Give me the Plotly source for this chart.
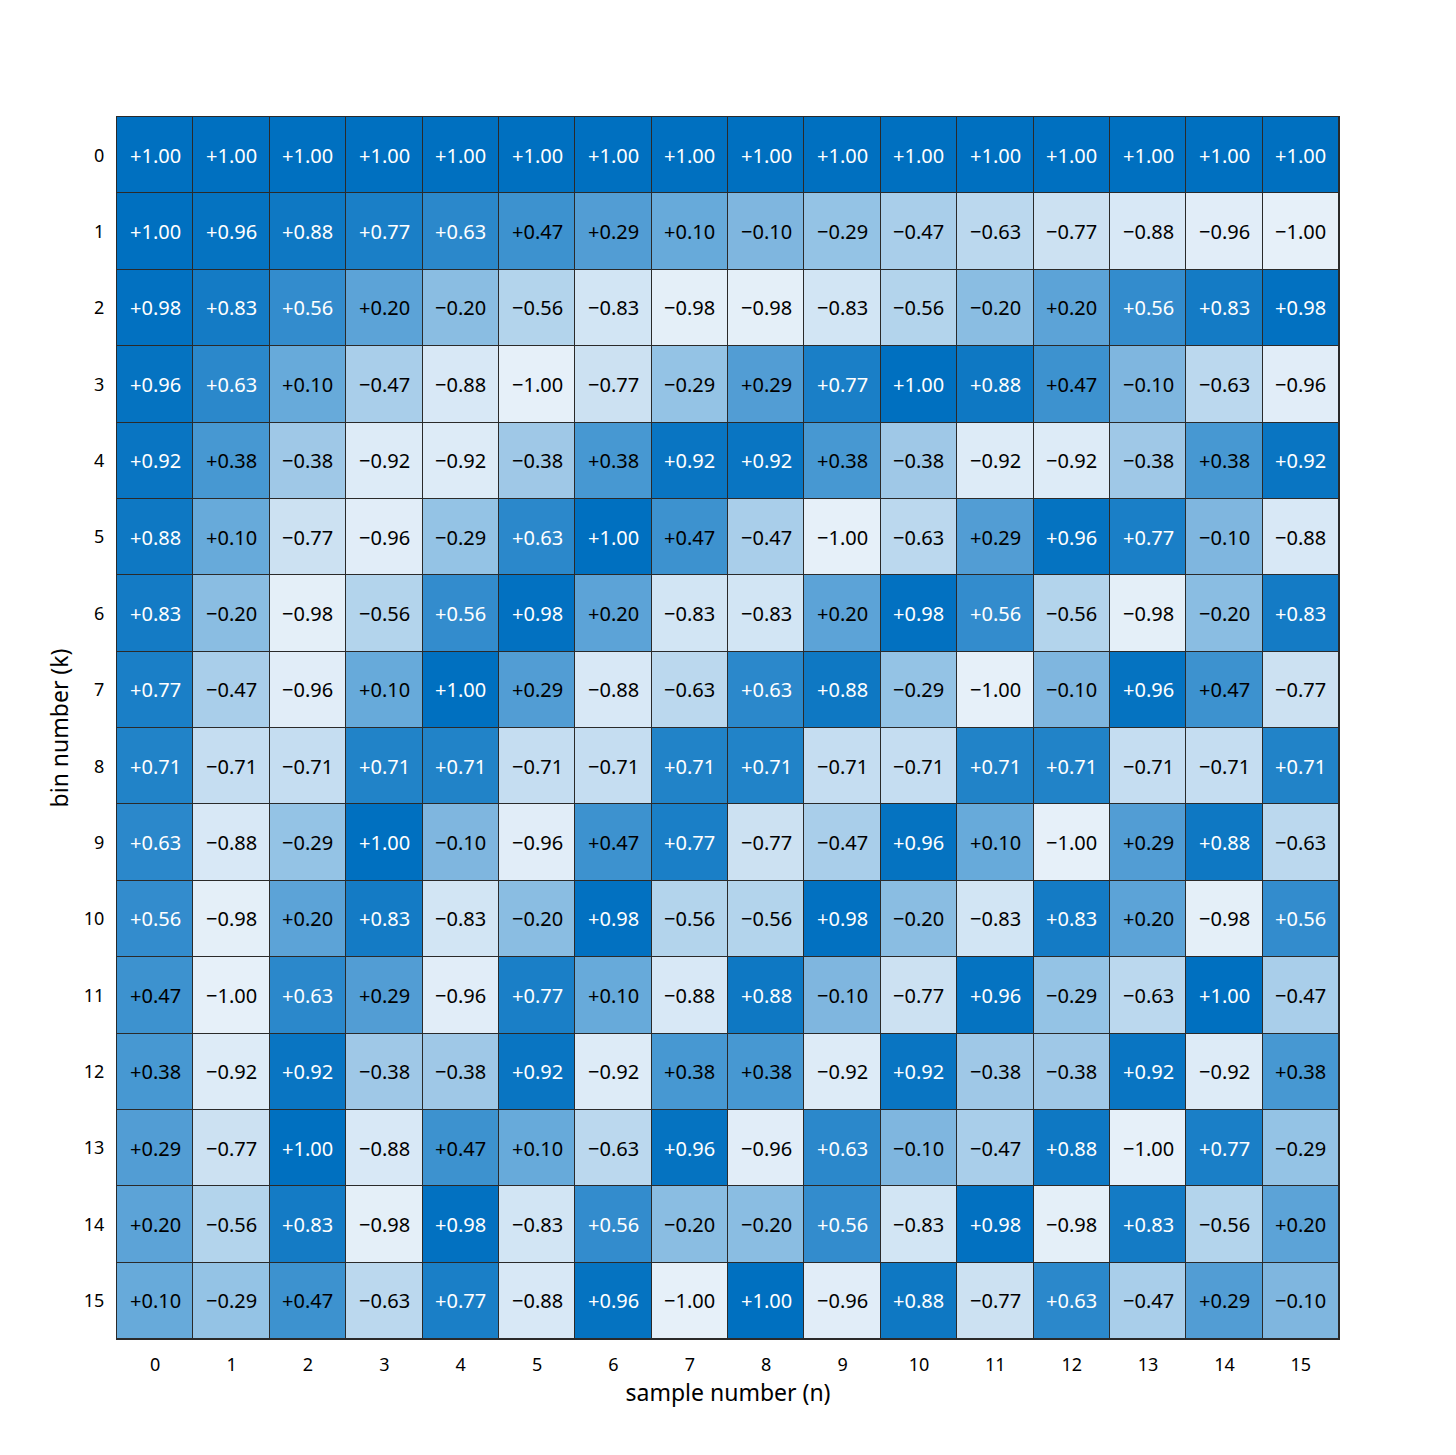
import plotly.graph_objects as go

n_labels = list(range(16))
k_labels = list(range(16))

# one list per bin k
k0 = [1.00] * 16
k1 = [1.00, 0.96, 0.88, 0.77, 0.63, 0.47, 0.29, 0.10, -0.10, -0.29, -0.47, -0.63, -0.77, -0.88, -0.96, -1.00]
k2 = [0.98, 0.83, 0.56, 0.20, -0.20, -0.56, -0.83, -0.98, -0.98, -0.83, -0.56, -0.20, 0.20, 0.56, 0.83, 0.98]
k3 = [0.96, 0.63, 0.10, -0.47, -0.88, -1.00, -0.77, -0.29, 0.29, 0.77, 1.00, 0.88, 0.47, -0.10, -0.63, -0.96]
k4 = [0.92, 0.38, -0.38, -0.92, -0.92, -0.38, 0.38, 0.92, 0.92, 0.38, -0.38, -0.92, -0.92, -0.38, 0.38, 0.92]
k5 = [0.88, 0.10, -0.77, -0.96, -0.29, 0.63, 1.00, 0.47, -0.47, -1.00, -0.63, 0.29, 0.96, 0.77, -0.10, -0.88]
k6 = [0.83, -0.20, -0.98, -0.56, 0.56, 0.98, 0.20, -0.83, -0.83, 0.20, 0.98, 0.56, -0.56, -0.98, -0.20, 0.83]
k7 = [0.77, -0.47, -0.96, 0.10, 1.00, 0.29, -0.88, -0.63, 0.63, 0.88, -0.29, -1.00, -0.10, 0.96, 0.47, -0.77]
k8 = [0.71, -0.71, -0.71, 0.71, 0.71, -0.71, -0.71, 0.71, 0.71, -0.71, -0.71, 0.71, 0.71, -0.71, -0.71, 0.71]
k9 = [0.63, -0.88, -0.29, 1.00, -0.10, -0.96, 0.47, 0.77, -0.77, -0.47, 0.96, 0.10, -1.00, 0.29, 0.88, -0.63]
k10 = [0.56, -0.98, 0.20, 0.83, -0.83, -0.20, 0.98, -0.56, -0.56, 0.98, -0.20, -0.83, 0.83, 0.20, -0.98, 0.56]
k11 = [0.47, -1.00, 0.63, 0.29, -0.96, 0.77, 0.10, -0.88, 0.88, -0.10, -0.77, 0.96, -0.29, -0.63, 1.00, -0.47]
k12 = [0.38, -0.92, 0.92, -0.38, -0.38, 0.92, -0.92, 0.38, 0.38, -0.92, 0.92, -0.38, -0.38, 0.92, -0.92, 0.38]
k13 = [0.29, -0.77, 1.00, -0.88, 0.47, 0.10, -0.63, 0.96, -0.96, 0.63, -0.10, -0.47, 0.88, -1.00, 0.77, -0.29]
k14 = [0.20, -0.56, 0.83, -0.98, 0.98, -0.83, 0.56, -0.20, -0.20, 0.56, -0.83, 0.98, -0.98, 0.83, -0.56, 0.20]
k15 = [0.10, -0.29, 0.47, -0.63, 0.77, -0.88, 0.96, -1.00, 1.00, -0.96, 0.88, -0.77, 0.63, -0.47, 0.29, -0.10]

z = [k0, k1, k2, k3, k4, k5, k6, k7, k8, k9, k10, k11, k12, k13, k14, k15]

FONT = "Noto Sans"

fig = go.Figure()
fig.add_trace(go.Heatmap(
    z=z, x=n_labels, y=k_labels,
    zmin=-1, zmax=1,
    colorscale=[[0, "#e6f0f9"], [1, "#0070c0"]],
    showscale=False,
    xgap=1, ygap=1,
    hoverinfo="skip",
))

# cell labels, white on the darker cells
annotations = []
for k, row in zip(k_labels, z):
    for n, v in zip(n_labels, row):
        annotations.append(dict(
            x=n, y=k, text=("%+.2f" % v).replace("-", "\u2212"), showarrow=False,
            font=dict(family=FONT, size=20, color="white" if v > 0.5 else "black"),
        ))

fig.update_layout(
    width=1456, height=1455,
    margin=dict(l=109, r=125, t=109, b=124),
    paper_bgcolor="white",
    plot_bgcolor="#2a2a2a",
    annotations=annotations,
    font=dict(family=FONT, size=18, color="black"),
    xaxis=dict(
        title=dict(text="sample number (n)", font=dict(size=23), standoff=10),
        tickmode="array", tickvals=n_labels,
        ticks="outside", ticklen=9, tickcolor="white",
        showgrid=False, zeroline=False,
        showline=True, linecolor="#2a2a2a", linewidth=1, mirror=True,
        range=[-0.5, 15.5],
    ),
    yaxis=dict(
        title=dict(text="bin number (k)", font=dict(size=23), standoff=8),
        tickmode="array", tickvals=k_labels,
        ticks="outside", ticklen=8, tickcolor="white",
        autorange="reversed",
        showgrid=False, zeroline=False,
        showline=True, linecolor="#2a2a2a", linewidth=1, mirror=True,
    ),
)

fig.write_html("out.html")
